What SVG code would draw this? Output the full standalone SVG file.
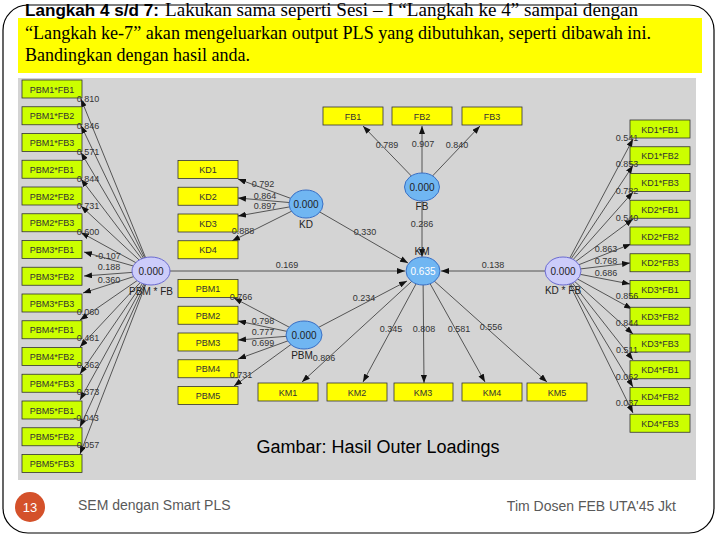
<svg xmlns="http://www.w3.org/2000/svg" width="720" height="540" viewBox="0 0 720 540">
<defs>
<style>
.lb{fill:#ccff00;stroke:#333;stroke-width:0.8}
.yb{fill:#ffff00;stroke:#333;stroke-width:0.8}
.bt{font-family:"Liberation Sans",Arial,sans-serif;font-size:9px;fill:#333;text-anchor:middle}
.el{font-family:"Liberation Sans",Arial,sans-serif;font-size:9px;fill:#333;text-anchor:middle}
.nl{font-family:"Liberation Sans",Arial,sans-serif;font-size:10px;fill:#222;text-anchor:middle}
.ev{font-family:"Liberation Sans",Arial,sans-serif;font-size:10px;fill:#222;text-anchor:middle}
.blue{fill:#70b6f2;stroke:#3a6fc4;stroke-width:1}
.lav{fill:#ccccfa;stroke:#6a6ad0;stroke-width:1}
.cn line{stroke:#333;stroke-width:0.8;marker-end:url(#ah)}
.tt{font-family:"Liberation Serif","Times New Roman",serif;font-size:18px;fill:#000}
.ft{font-family:"Liberation Sans",Arial,sans-serif;font-size:14px;fill:#595959}
</style>
<marker id="ah" markerUnits="userSpaceOnUse" markerWidth="8" markerHeight="6" viewBox="0 0 8 6" refX="8" refY="3" orient="auto">
<path d="M0,0 L8,3 L0,6 z" fill="#111"/>
</marker>
</defs>
<rect x="0" y="0" width="720" height="540" fill="#fff"/>
<rect x="3" y="5" width="711" height="528" rx="25" ry="25" fill="none" stroke="#000" stroke-width="1.2"/>
<g id="title">
<rect x="18" y="18" width="684" height="55" fill="#ffff00"/>
<text x="25" y="16" font-family="Liberation Sans,Arial,sans-serif" font-weight="bold" font-size="16" textLength="134" lengthAdjust="spacingAndGlyphs">Langkah 4 s/d 7:</text>
<text class="tt" x="165" y="16" textLength="473" lengthAdjust="spacingAndGlyphs">Lakukan sama seperti Sesi – I “Langkah ke 4” sampai dengan</text>
<text class="tt" x="25" y="39" textLength="626" lengthAdjust="spacingAndGlyphs">“Langkah ke-7” akan mengeluarkan output PLS yang dibutuhkan, seperti dibawah ini.</text>
<text class="tt" x="25" y="61" textLength="225" lengthAdjust="spacingAndGlyphs">Bandingkan dengan hasil anda.</text>
</g>
<rect x="18" y="78" width="678" height="402" fill="#d4d4d4"/>
<g id="connectors" class="cn">
<line x1="151" y1="271" x2="81" y2="99"/>
<line x1="151" y1="271" x2="81" y2="125.5"/>
<line x1="151" y1="271" x2="81" y2="152.5"/>
<line x1="151" y1="271" x2="81" y2="179"/>
<line x1="151" y1="271" x2="81" y2="206"/>
<line x1="151" y1="271" x2="81" y2="232.5"/>
<line x1="151" y1="271" x2="84" y2="252"/>
<line x1="151" y1="271" x2="84" y2="276"/>
<line x1="151" y1="271" x2="83" y2="293"/>
<line x1="151" y1="271" x2="80" y2="320"/>
<line x1="151" y1="271" x2="80" y2="347"/>
<line x1="151" y1="271" x2="80" y2="374"/>
<line x1="151" y1="271" x2="80" y2="400"/>
<line x1="151" y1="271" x2="80" y2="427"/>
<line x1="151" y1="271" x2="80" y2="454"/>
<line x1="563" y1="271" x2="633" y2="139"/>
<line x1="563" y1="271" x2="633" y2="165.5"/>
<line x1="563" y1="271" x2="633" y2="192"/>
<line x1="563" y1="271" x2="633" y2="219"/>
<line x1="563" y1="271" x2="631" y2="244"/>
<line x1="563" y1="271" x2="630" y2="263"/>
<line x1="563" y1="271" x2="630" y2="284"/>
<line x1="563" y1="271" x2="632" y2="309"/>
<line x1="563" y1="271" x2="633" y2="334"/>
<line x1="563" y1="271" x2="633" y2="360"/>
<line x1="563" y1="271" x2="633" y2="387"/>
<line x1="563" y1="271" x2="633" y2="413"/>
<line x1="306" y1="204" x2="238" y2="179"/>
<line x1="306" y1="204" x2="238" y2="198"/>
<line x1="306" y1="204" x2="238" y2="216"/>
<line x1="306" y1="204" x2="232" y2="241"/>
<line x1="304" y1="335" x2="234" y2="298"/>
<line x1="304" y1="335" x2="238" y2="321"/>
<line x1="304" y1="335" x2="238" y2="340"/>
<line x1="304" y1="335" x2="238" y2="359"/>
<line x1="304" y1="335" x2="234" y2="386"/>
<line x1="422" y1="187" x2="363" y2="126"/>
<line x1="422" y1="187" x2="422" y2="126"/>
<line x1="422" y1="187" x2="480" y2="126"/>
<line x1="423" y1="271" x2="302" y2="382"/>
<line x1="423" y1="271" x2="363" y2="382"/>
<line x1="423" y1="271" x2="424" y2="383"/>
<line x1="423" y1="271" x2="485" y2="382"/>
<line x1="423" y1="271" x2="547" y2="382"/>
<line x1="151" y1="271" x2="405" y2="271"/>
<line x1="306" y1="204" x2="408" y2="263"/>
<line x1="304" y1="335" x2="407" y2="281"/>
<line x1="422" y1="187" x2="422" y2="257"/>
<line x1="563" y1="271" x2="441" y2="271"/>
</g>
<g id="PBM1FB1"><rect class="lb" x="22" y="80" width="60" height="18"/><text class="bt" x="52" y="92.5">PBM1*FB1</text></g>
<g id="PBM1FB2"><rect class="lb" x="22" y="106.75" width="60" height="18"/><text class="bt" x="52" y="119.25">PBM1*FB2</text></g>
<g id="PBM1FB3"><rect class="lb" x="22" y="133.5" width="60" height="18"/><text class="bt" x="52" y="146">PBM1*FB3</text></g>
<g id="PBM2FB1"><rect class="lb" x="22" y="160.25" width="60" height="18"/><text class="bt" x="52" y="172.75">PBM2*FB1</text></g>
<g id="PBM2FB2"><rect class="lb" x="22" y="187" width="60" height="18"/><text class="bt" x="52" y="199.5">PBM2*FB2</text></g>
<g id="PBM2FB3"><rect class="lb" x="22" y="213.75" width="60" height="18"/><text class="bt" x="52" y="226.25">PBM2*FB3</text></g>
<g id="PBM3FB1"><rect class="lb" x="22" y="240.5" width="60" height="18"/><text class="bt" x="52" y="253">PBM3*FB1</text></g>
<g id="PBM3FB2"><rect class="lb" x="22" y="267.25" width="60" height="18"/><text class="bt" x="52" y="279.75">PBM3*FB2</text></g>
<g id="PBM3FB3"><rect class="lb" x="22" y="294" width="60" height="18"/><text class="bt" x="52" y="306.5">PBM3*FB3</text></g>
<g id="PBM4FB1"><rect class="lb" x="22" y="320.75" width="60" height="18"/><text class="bt" x="52" y="333.25">PBM4*FB1</text></g>
<g id="PBM4FB2"><rect class="lb" x="22" y="347.5" width="60" height="18"/><text class="bt" x="52" y="360">PBM4*FB2</text></g>
<g id="PBM4FB3"><rect class="lb" x="22" y="374.25" width="60" height="18"/><text class="bt" x="52" y="386.75">PBM4*FB3</text></g>
<g id="PBM5FB1"><rect class="lb" x="22" y="401" width="60" height="18"/><text class="bt" x="52" y="413.5">PBM5*FB1</text></g>
<g id="PBM5FB2"><rect class="lb" x="22" y="427.75" width="60" height="18"/><text class="bt" x="52" y="440.25">PBM5*FB2</text></g>
<g id="PBM5FB3"><rect class="lb" x="22" y="454.5" width="60" height="18"/><text class="bt" x="52" y="467">PBM5*FB3</text></g>
<g id="KD1FB1"><rect class="lb" x="630" y="120" width="60" height="18"/><text class="bt" x="660" y="132.5">KD1*FB1</text></g>
<g id="KD1FB2"><rect class="lb" x="630" y="146.75" width="60" height="18"/><text class="bt" x="660" y="159.25">KD1*FB2</text></g>
<g id="KD1FB3"><rect class="lb" x="630" y="173.5" width="60" height="18"/><text class="bt" x="660" y="186">KD1*FB3</text></g>
<g id="KD2FB1"><rect class="lb" x="630" y="200.25" width="60" height="18"/><text class="bt" x="660" y="212.75">KD2*FB1</text></g>
<g id="KD2FB2"><rect class="lb" x="630" y="227" width="60" height="18"/><text class="bt" x="660" y="239.5">KD2*FB2</text></g>
<g id="KD2FB3"><rect class="lb" x="630" y="253.75" width="60" height="18"/><text class="bt" x="660" y="266.25">KD2*FB3</text></g>
<g id="KD3FB1"><rect class="lb" x="630" y="280.5" width="60" height="18"/><text class="bt" x="660" y="293">KD3*FB1</text></g>
<g id="KD3FB2"><rect class="lb" x="630" y="307.25" width="60" height="18"/><text class="bt" x="660" y="319.75">KD3*FB2</text></g>
<g id="KD3FB3"><rect class="lb" x="630" y="334" width="60" height="18"/><text class="bt" x="660" y="346.5">KD3*FB3</text></g>
<g id="KD4FB1"><rect class="lb" x="630" y="360.75" width="60" height="18"/><text class="bt" x="660" y="373.25">KD4*FB1</text></g>
<g id="KD4FB2"><rect class="lb" x="630" y="387.5" width="60" height="18"/><text class="bt" x="660" y="400">KD4*FB2</text></g>
<g id="KD4FB3"><rect class="lb" x="630" y="414.25" width="60" height="18"/><text class="bt" x="660" y="426.75">KD4*FB3</text></g>
<g id="KD1"><rect class="yb" x="178" y="160.5" width="60" height="18"/><text class="bt" x="208" y="173">KD1</text></g>
<g id="KD2"><rect class="yb" x="178" y="187.25" width="60" height="18"/><text class="bt" x="208" y="199.75">KD2</text></g>
<g id="KD3"><rect class="yb" x="178" y="214" width="60" height="18"/><text class="bt" x="208" y="226.5">KD3</text></g>
<g id="KD4"><rect class="yb" x="178" y="240.75" width="60" height="18"/><text class="bt" x="208" y="253.25">KD4</text></g>
<g id="PBM1"><rect class="yb" x="178" y="279.5" width="60" height="18"/><text class="bt" x="208" y="292">PBM1</text></g>
<g id="PBM2"><rect class="yb" x="178" y="306.25" width="60" height="18"/><text class="bt" x="208" y="318.75">PBM2</text></g>
<g id="PBM3"><rect class="yb" x="178" y="333" width="60" height="18"/><text class="bt" x="208" y="345.5">PBM3</text></g>
<g id="PBM4"><rect class="yb" x="178" y="359.75" width="60" height="18"/><text class="bt" x="208" y="372.25">PBM4</text></g>
<g id="PBM5"><rect class="yb" x="178" y="386.5" width="60" height="18"/><text class="bt" x="208" y="399">PBM5</text></g>
<g id="FB1"><rect class="yb" x="323" y="107" width="60" height="18"/><text class="bt" x="353" y="119.5">FB1</text></g>
<g id="FB2"><rect class="yb" x="392" y="107" width="60" height="18"/><text class="bt" x="422" y="119.5">FB2</text></g>
<g id="FB3"><rect class="yb" x="462" y="107" width="60" height="18"/><text class="bt" x="492" y="119.5">FB3</text></g>
<g id="KM1"><rect class="yb" x="258" y="383" width="60" height="18"/><text class="bt" x="288" y="395.5">KM1</text></g>
<g id="KM2"><rect class="yb" x="327" y="383" width="60" height="18"/><text class="bt" x="357" y="395.5">KM2</text></g>
<g id="KM3"><rect class="yb" x="394" y="383" width="59" height="18"/><text class="bt" x="423" y="395.5">KM3</text></g>
<g id="KM4"><rect class="yb" x="462" y="383" width="60" height="18"/><text class="bt" x="492" y="395.5">KM4</text></g>
<g id="KM5"><rect class="yb" x="527" y="383" width="60" height="18"/><text class="bt" x="557" y="395.5">KM5</text></g>
<g id="PBMxFB"><ellipse class="lav" cx="151" cy="271" rx="19" ry="14"/><text class="ev" x="151" y="274.5">0.000</text><text class="nl" x="151" y="295">PBM * FB</text></g>
<g id="KDxFB"><ellipse class="lav" cx="563" cy="271" rx="18" ry="14"/><text class="ev" x="563" y="274.5">0.000</text><text class="nl" x="563" y="294">KD * FB</text></g>
<g id="KD"><ellipse class="blue" cx="306" cy="204" rx="17" ry="14"/><text class="ev" x="306" y="207.5">0.000</text><text class="nl" x="306" y="228">KD</text></g>
<g id="PBM"><ellipse class="blue" cx="304" cy="335" rx="18" ry="14"/><text class="ev" x="304" y="338.5">0.000</text><text class="nl" x="302" y="359">PBM</text></g>
<g id="FB"><ellipse class="blue" cx="422" cy="187" rx="17.5" ry="14"/><text class="ev" x="422" y="190.5">0.000</text><text class="nl" x="422" y="210">FB</text></g>
<g id="KM"><ellipse class="blue" cx="423" cy="271" rx="17" ry="14"/><text class="ev" x="423" y="274.5" style="fill:#fff">0.635</text><text class="nl" x="422" y="255">KM</text></g>
<g id="loadings">
<text class="el" x="88" y="102">0.810</text>
<text class="el" x="88" y="129">0.846</text>
<text class="el" x="88" y="155">0.571</text>
<text class="el" x="88" y="182">0.844</text>
<text class="el" x="88" y="209">0.731</text>
<text class="el" x="88" y="235">0.600</text>
<text class="el" x="108" y="259">-0.107</text>
<text class="el" x="109" y="270">0.188</text>
<text class="el" x="109" y="283">0.360</text>
<text class="el" x="88" y="315">0.060</text>
<text class="el" x="88" y="341">0.481</text>
<text class="el" x="88" y="368">0.362</text>
<text class="el" x="88" y="395">0.373</text>
<text class="el" x="86" y="421">-0.043</text>
<text class="el" x="88" y="448">0.057</text>
<text class="el" x="627" y="141">0.541</text>
<text class="el" x="627" y="167">0.853</text>
<text class="el" x="627" y="194">0.782</text>
<text class="el" x="627" y="221">0.540</text>
<text class="el" x="606" y="252">0.863</text>
<text class="el" x="606" y="264">0.768</text>
<text class="el" x="606" y="276">0.686</text>
<text class="el" x="627" y="299">0.856</text>
<text class="el" x="627" y="326">0.844</text>
<text class="el" x="627" y="353">0.511</text>
<text class="el" x="627" y="380">0.062</text>
<text class="el" x="627" y="406">0.037</text>
<text class="el" x="263" y="187">0.792</text>
<text class="el" x="265" y="199">0.864</text>
<text class="el" x="265" y="209">0.897</text>
<text class="el" x="243" y="234">0.888</text>
<text class="el" x="241" y="300">0.766</text>
<text class="el" x="263" y="324">0.798</text>
<text class="el" x="263" y="335">0.777</text>
<text class="el" x="263" y="346">0.699</text>
<text class="el" x="241" y="378">0.731</text>
<text class="el" x="387" y="148">0.789</text>
<text class="el" x="423" y="147">0.907</text>
<text class="el" x="457" y="148">0.840</text>
<text class="el" x="324" y="361">0.806</text>
<text class="el" x="391" y="332">0.345</text>
<text class="el" x="424" y="332">0.808</text>
<text class="el" x="459" y="332">0.581</text>
<text class="el" x="491" y="330">0.556</text>
<text class="el" x="287" y="268">0.169</text>
<text class="el" x="365" y="235">0.330</text>
<text class="el" x="364" y="301">0.234</text>
<text class="el" x="422" y="227">0.286</text>
<text class="el" x="493" y="268">0.138</text>
</g>
<text x="378" y="453" font-family="Liberation Sans,Arial,sans-serif" font-size="18" text-anchor="middle" fill="#000">Gambar: Hasil Outer Loadings</text>
<g id="footer">
<circle cx="30" cy="507" r="15" fill="#d4512a"/>
<text x="30" y="512" font-family="Liberation Sans,Arial,sans-serif" font-size="13" text-anchor="middle" fill="#fff">13</text>
<text class="ft" x="78" y="510">SEM dengan Smart PLS</text>
<text class="ft" x="676" y="511" text-anchor="end">Tim Dosen FEB UTA'45 Jkt</text>
</g>
</svg>
